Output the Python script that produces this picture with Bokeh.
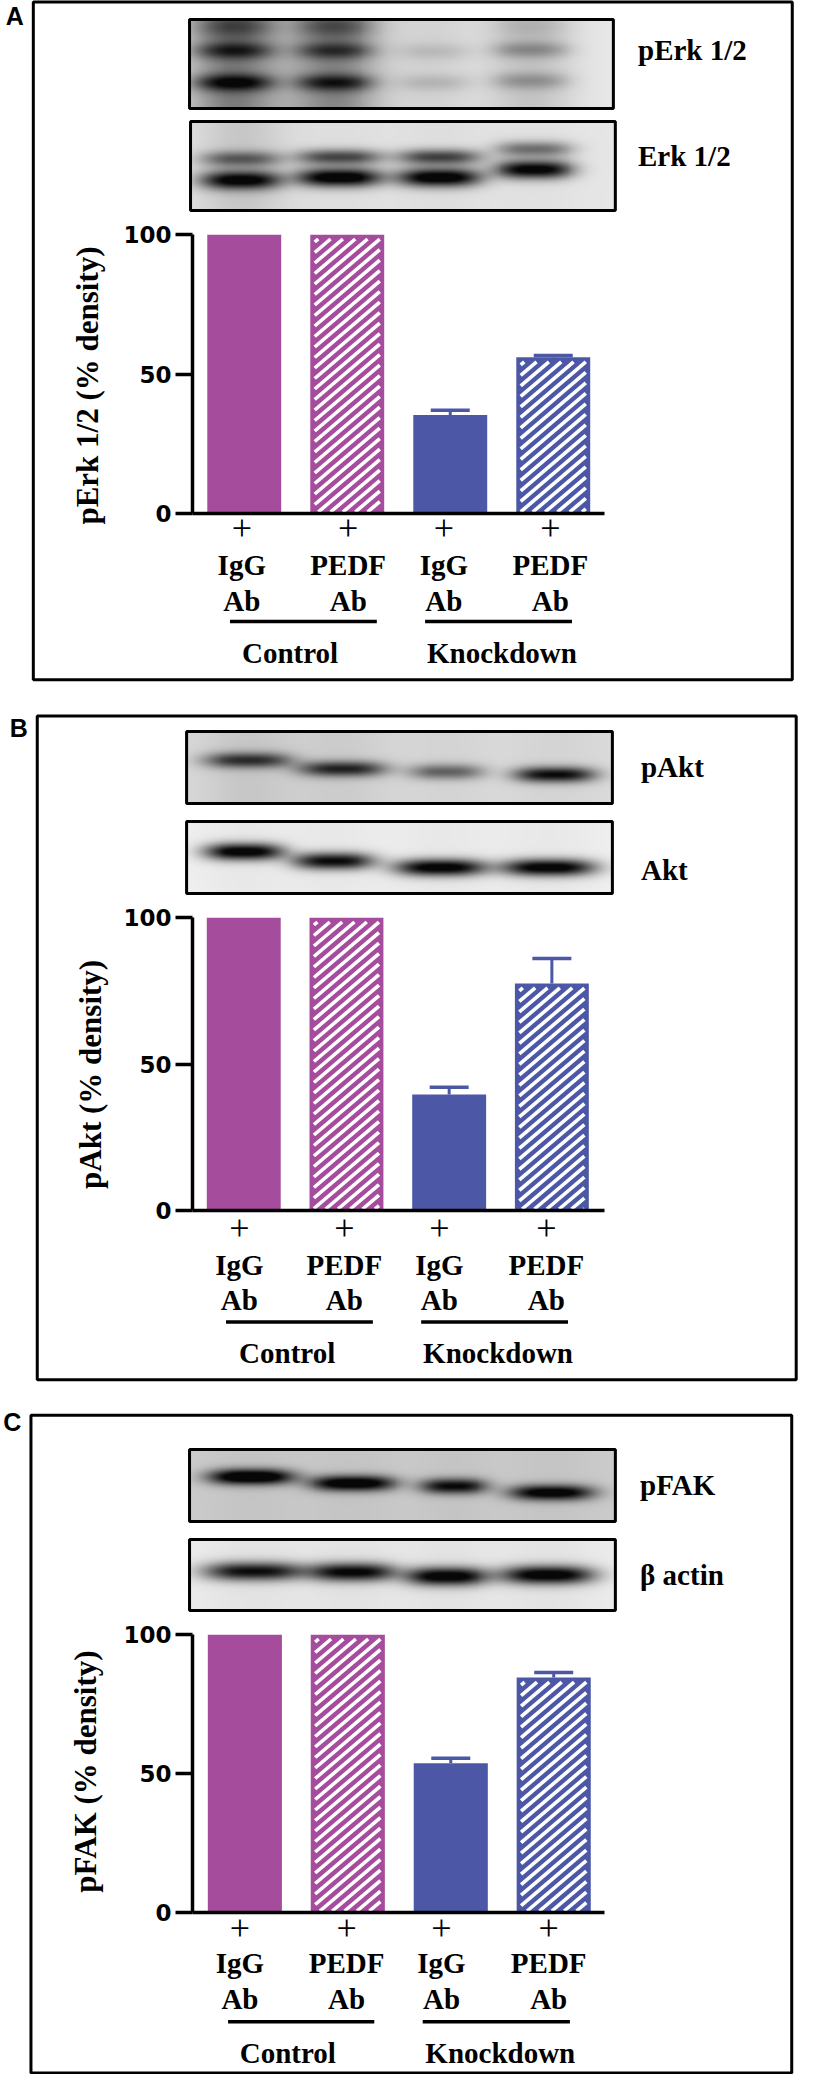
import numpy as np
from math import pi, tan, radians
from bokeh.plotting import figure
from bokeh.layouts import column
from bokeh.models import (Range1d, FixedTicker, ColumnDataSource, Whisker,
                          TeeHead, LinearColorMapper)
from bokeh.core.properties import value
from bokeh.embed import file_html
from bokeh.resources import INLINE
from bokeh.palettes import Greys256

# ------------------------------------------------------------------ data
panel_letters = ["A", "B", "C"]
blot_top_labels = ["pErk 1/2", "pAkt", "pFAK"]
blot_bottom_labels = ["Erk 1/2", "Akt", "\u03b2 actin"]
y_labels = ["pErk 1/2 (% density)", "pAkt  (% density)", "pFAK (% density)"]
y_ticks = [0, 50, 100]
sign_row = ["+", "+", "+", "+"]
treat_row1 = ["IgG", "PEDF", "IgG", "PEDF"]
treat_row2 = ["Ab", "Ab", "Ab", "Ab"]
groups = ["Control", "Knockdown"]
bar_x = [1, 2, 3, 4]

perk_mean = [100, 100, 35.3, 56.0]
perk_err = [0, 0, 1.7, 0.6]
pakt_mean = [100, 100, 39.6, 77.5]
pakt_err = [0, 0, 2.5, 8.5]
pfak_mean = [100, 100, 53.7, 84.5]
pfak_err = [0, 0, 1.8, 1.8]

bar_colors = ["#A64C9D", "#A64C9D", "#4C58A6", "#4C58A6"]
bar_hatched = [False, True, False, True]

# western-blot band darkness (lane 1..4)
perk_lane_x = [45, 147, 247, 345]
perk_lane_w = [82, 80, 74, 78]
perk_band_y = [[0.08, 0.08, 0.08, 0.08], [0.35, 0.35, 0.36, 0.34], [0.71, 0.71, 0.71, 0.69]]
perk_band_d = [[0.25, 0.25, 0.0, 0.08], [0.42, 0.38, 0.10, 0.25], [0.55, 0.48, 0.12, 0.22]]
perk_band_s = [8, 6, 6]
perk_smear = [0.42, 0.38, 0.08, 0.14]
perk_bg = 0.09

erk_lane_x = [51, 151, 252, 348]
erk_lane_w = [82, 86, 84, 78]
erk_band_y = [[0.42, 0.40, 0.40, 0.31], [0.66, 0.63, 0.63, 0.54]]
erk_band_d = [[0.45, 0.60, 0.62, 0.45], [0.85, 0.97, 0.97, 0.92]]
erk_band_s = [5.5, 6.5]
erk_smear = [0.12, 0.03, 0.03, 0.02]
erk_bg = 0.10

pakt_lane_x = [62, 158, 263, 373]
pakt_lane_w = [88, 88, 76, 82]
pakt_band_y = [[0.40, 0.52, 0.56, 0.60]]
pakt_band_d = [[0.62, 0.68, 0.45, 0.80]]
pakt_band_s = [5.5]
pakt_smear = [0.08, 0.06, 0.03, 0.03]
pakt_bg = 0.14

akt_lane_x = [58, 149, 257, 367]
akt_lane_w = [80, 82, 92, 94]
akt_band_y = [[0.42, 0.55, 0.64, 0.64]]
akt_band_d = [[0.97, 0.88, 0.97, 0.97]]
akt_band_s = [6]
akt_smear = [0.03, 0.03, 0.03, 0.03]
akt_bg = 0.06

pfak_lane_x = [62, 165, 267, 366]
pfak_lane_w = [86, 86, 68, 86]
pfak_band_y = [[0.38, 0.47, 0.51, 0.60]]
pfak_band_d = [[0.97, 0.90, 0.75, 0.85]]
pfak_band_s = [5.5]
pfak_smear = [0.03, 0.03, 0.03, 0.03]
pfak_bg = 0.20

actin_lane_x = [65, 165, 260, 362]
actin_lane_w = [102, 86, 82, 94]
actin_band_y = [[0.45, 0.46, 0.52, 0.50]]
actin_band_d = [[0.85, 0.90, 0.97, 0.97]]
actin_band_s = [6.5]
actin_smear = [0.04, 0.04, 0.04, 0.04]
actin_bg = 0.07

# ------------------------------------------------------------------ layout (page px)
PANELS = [
    dict(T=8, H=697, ax_x=198, ax_end=616, y100=242, y0=521, c1=250.5, step=104.5,
         frame=(36.5, 806.5, 9.5, 687.3), letter_y=23.5,
         blot1=(195, 625, 27, 116), blot2=(196, 627, 129, 218), blab_x=650, blab_y=(57, 163),
         ylab=(91, 393), dys=(14, 51, 87, 108, 139),
         lab_x=[248, 356, 453, 561], ulines=[(236, 385), (434, 583)], group_x=[297, 512]),
    dict(T=705, H=700, ax_x=194, ax_end=612, y100=925, y0=1218, c1=246, step=104.2,
         frame=(36.5, 806.5, 723.5, 1387.3), letter_y=735,
         blot1=(188, 620, 739, 811), blot2=(188, 620, 829, 901), blab_x=649, blab_y=(774, 877),
         ylab=(91, 1078), dys=(17, 54, 89, 111.5, 142),
         lab_x=[241.5, 348, 444.5, 553], ulines=[(228, 377), (426, 575)], group_x=[290, 504]),
    dict(T=1405, H=677, ax_x=200, ax_end=617, y100=1642, y0=1920, c1=253, step=104.2,
         frame=(36.5, 806.5, 1422.7, 2080.5), letter_y=1429,
         blot1=(197, 628, 1457, 1529), blot2=(197, 628, 1547, 1618), blab_x=653, blab_y=(1492, 1582),
         ylab=(92, 1779), dys=(15, 50.7, 86.7, 109.3, 140),
         lab_x=[248, 356, 452, 560.5], ulines=[(236, 384), (433, 582)], group_x=[296.5, 511.5]),
]

SERIF = value("Liberation Serif")
SANS = value("Liberation Sans")
PAGE_W = 800
BAR_PX = 75
BORDER_PX = 4.5        # solid rim left around the hatch
STRIPE_PERIOD = 10.5   # vertical distance between white stripes (px)
STRIPE_SLOPE = tan(radians(40))


def blot_image(w, h, lane_x, lane_w, band_y, band_d, band_s, smear, bg):
    xx = np.arange(w) + 0.5
    yy = np.arange(h) + 0.5
    d = np.full((h, w), float(bg))
    for i in range(4):
        prof = np.exp(-(np.abs(xx - lane_x[i]) / (lane_w[i] / 2.0)) ** 3)
        soft = np.exp(-(np.abs(xx - lane_x[i]) / (lane_w[i] / 2.0 + 6)) ** 2)
        d += smear[i] * soft[None, :] * np.ones((h, 1))
        for b in range(len(band_y)):
            yc = band_y[b][i] * h
            g = np.exp(-0.5 * ((yy - yc) / band_s[b]) ** 2)
            d += band_d[b][i] * g[:, None] * prof[None, :]
    d = np.clip(d, 0, 0.97)
    return (1.0 - d)[::-1]


def stripe_segments(xl, xr, yt, yb):
    """White diagonal hatch lines (page px) clipped to the rectangle."""
    m = STRIPE_SLOPE
    out = []
    c = yt + 3.0
    while c < yb + m * (xr - xl) + STRIPE_PERIOD:
        x_a = max(xl, xl + (c - yb) / m)
        x_b = min(xr, xl + (c - yt) / m)
        if x_b - x_a > 0.5:
            out.append((x_a, c - m * (x_a - xl), x_b, c - m * (x_b - xl)))
        c += STRIPE_PERIOD
    return out


BLOTS = [
    (blot_image(430, 89, perk_lane_x, perk_lane_w, perk_band_y, perk_band_d, perk_band_s, perk_smear, perk_bg),
     blot_image(431, 89, erk_lane_x, erk_lane_w, erk_band_y, erk_band_d, erk_band_s, erk_smear, erk_bg)),
    (blot_image(432, 72, pakt_lane_x, pakt_lane_w, pakt_band_y, pakt_band_d, pakt_band_s, pakt_smear, pakt_bg),
     blot_image(432, 72, akt_lane_x, akt_lane_w, akt_band_y, akt_band_d, akt_band_s, akt_smear, akt_bg)),
    (blot_image(431, 72, pfak_lane_x, pfak_lane_w, pfak_band_y, pfak_band_d, pfak_band_s, pfak_smear, pfak_bg),
     blot_image(431, 71, actin_lane_x, actin_lane_w, actin_band_y, actin_band_d, actin_band_s, actin_smear, actin_bg)),
]

MEANS = [perk_mean, pakt_mean, pfak_mean]
ERRS = [perk_err, pakt_err, pfak_err]

mapper = LinearColorMapper(palette=Greys256, low=0, high=1)


def make_panel(k):
    g = PANELS[k]
    ax_x, ax_end, y100, y0, step = g["ax_x"], g["ax_end"], g["y100"], g["y0"], g["step"]
    xs = 1 - (g["c1"] - ax_x) / step
    xe = xs + (ax_end - ax_x) / step
    ppu = (y0 - y100) / 100.0

    def dx(px):
        return xs + (px - ax_x) / step

    def dy(py):
        return (y0 - py) / ppu

    def px_x(x):
        return ax_x + (x - xs) * step

    def px_y(v):
        return y0 - v * ppu

    p = figure(width=PAGE_W, height=g["H"], x_range=Range1d(xs, xe), y_range=Range1d(0, 100),
               output_backend="svg", toolbar_location=None,
               min_border_left=ax_x - 8, min_border_right=8 + PAGE_W - ax_end,
               min_border_top=y100 - g["T"], min_border_bottom=g["T"] + g["H"] - y0)
    p.background_fill_color = "white"
    p.border_fill_color = "white"
    p.outline_line_color = None
    p.xgrid.visible = False
    p.ygrid.visible = False

    # axes
    p.yaxis.ticker = FixedTicker(ticks=y_ticks)
    p.yaxis.axis_line_width = 3.5
    p.yaxis.major_tick_line_width = 3.5
    p.yaxis.major_tick_out = 17
    p.yaxis.major_tick_in = 0
    p.yaxis.minor_tick_out = 0
    p.yaxis.minor_tick_in = 0
    p.yaxis.major_label_standoff = 4
    p.yaxis.major_label_text_font = "DejaVu Sans"
    p.yaxis.major_label_text_font_style = "bold"
    p.yaxis.major_label_text_font_size = "23px"
    p.yaxis.major_label_text_color = "black"
    p.xaxis.ticker = FixedTicker(ticks=[])
    p.xaxis.axis_line_width = 3.5
    p.xaxis.major_tick_out = 0
    p.xaxis.minor_tick_out = 0

    # bars
    mean, err = MEANS[k], ERRS[k]
    src = ColumnDataSource(dict(x=bar_x, top=mean, c=bar_colors))
    p.vbar(x="x", top="top", bottom=0, width=BAR_PX / step, source=src,
           fill_color="c", line_color=None)

    # white diagonal hatch on the antibody-treated bars
    sx0, sy0, sx1, sy1 = [], [], [], []
    for i in range(4):
        if not bar_hatched[i]:
            continue
        cx = px_x(bar_x[i])
        xl, xr = cx - BAR_PX / 2 + BORDER_PX, cx + BAR_PX / 2 - BORDER_PX
        yt, yb = px_y(mean[i]) + BORDER_PX, px_y(0) - 1.5
        for a, b, c_, d_ in stripe_segments(xl, xr, yt, yb):
            sx0.append(dx(a)); sy0.append(dy(b)); sx1.append(dx(c_)); sy1.append(dy(d_))
    p.segment(x0=sx0, y0=sy0, x1=sx1, y1=sy1, line_color="white", line_width=3.6)

    ei = [i for i in range(4) if err[i] > 0]
    src_e = ColumnDataSource(dict(x=[bar_x[i] for i in ei], lower=[mean[i] for i in ei],
                                  upper=[mean[i] + err[i] for i in ei]))
    ecol = bar_colors[3]
    wh = Whisker(source=src_e, base="x", lower="lower", upper="upper", dimension="height",
                 line_color=ecol, line_width=3, lower_head=None,
                 upper_head=TeeHead(size=39, line_color=ecol, line_width=3.5), level="overlay")
    p.add_layout(wh)

    # panel frame
    fl, fr, ft, fb = g["frame"]
    p.quad(left=[dx(fl)], right=[dx(fr)], top=[dy(ft)], bottom=[dy(fb)],
           fill_alpha=0, line_color="black", line_width=3, level="overlay")

    # panel letter
    p.text(x=[dx(8.5)], y=[dy(g["letter_y"])], text=[panel_letters[k]], text_font=SANS,
           text_font_style="bold", text_font_size="25px", text_align="left",
           text_baseline="middle", text_color="black", level="overlay")

    # blots
    for img, box in zip(BLOTS[k], (g["blot1"], g["blot2"])):
        l, r, t, b = box
        p.image(image=[img], x=dx(l), y=dy(b), dw=(r - l) / step, dh=(b - t) / ppu,
                color_mapper=mapper, level="overlay")
        p.quad(left=[dx(l)], right=[dx(r)], top=[dy(t)], bottom=[dy(b)],
               fill_alpha=0, line_color="black", line_width=3, level="overlay")

    p.text(x=[dx(g["blab_x"])] * 2, y=[dy(g["blab_y"][0]), dy(g["blab_y"][1])],
           text=[blot_top_labels[k], blot_bottom_labels[k]], text_font=SERIF,
           text_font_style="bold", text_font_size="29px", text_align="left",
           text_baseline="middle", text_color="black", level="overlay")

    # y label
    p.text(x=[dx(g["ylab"][0])], y=[dy(g["ylab"][1])], text=[y_labels[k]], angle=pi / 2,
           text_font=SERIF, text_font_style="bold", text_font_size="31px",
           text_align="center", text_baseline="middle", text_color="black", level="overlay")

    # category labels
    d_plus, d_l1, d_l2, d_ul, d_grp = g["dys"]
    lx = [dx(v) for v in g["lab_x"]]
    p.text(x=lx, y=[dy(y0 + d_plus)] * 4, text=sign_row, text_font=SERIF,
           text_font_size="36px", text_align="center", text_baseline="middle",
           text_color="black", level="overlay")
    p.text(x=lx, y=[dy(y0 + d_l1)] * 4, text=treat_row1, text_font=SERIF,
           text_font_style="bold", text_font_size="29px", text_align="center",
           text_baseline="middle", text_color="black", level="overlay")
    p.text(x=lx, y=[dy(y0 + d_l2)] * 4, text=treat_row2, text_font=SERIF,
           text_font_style="bold", text_font_size="29px", text_align="center",
           text_baseline="middle", text_color="black", level="overlay")
    p.segment(x0=[dx(a) for a, b in g["ulines"]], x1=[dx(b) for a, b in g["ulines"]],
              y0=[dy(y0 + d_ul)] * 2, y1=[dy(y0 + d_ul)] * 2,
              line_color="black", line_width=3.5, level="overlay")
    p.text(x=[dx(v) for v in g["group_x"]], y=[dy(y0 + d_grp)] * 2, text=groups,
           text_font=SERIF, text_font_style="bold", text_font_size="29px",
           text_align="center", text_baseline="middle", text_color="black", level="overlay")
    return p


layout = column(make_panel(0), make_panel(1), make_panel(2), spacing=0)

with open("out.html", "w") as f:
    f.write(file_html(layout, INLINE))
